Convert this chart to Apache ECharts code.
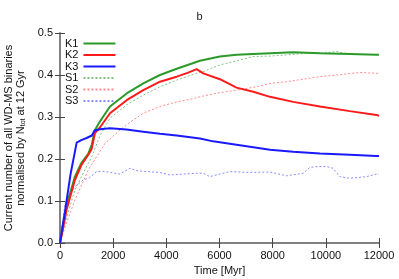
<!DOCTYPE html>
<html>
<head>
<meta charset="utf-8">
<script src="https://cdn.jsdelivr.net/npm/echarts@6/dist/echarts.min.js"></script>
<style>html,body{margin:0;padding:0;background:#fff}#c{width:399px;height:279px}</style>
</head>
<body>
<div id="c"></div>
<script>
const xTicks = [0, 2000, 4000, 6000, 8000, 10000, 12000];
const yTicks = [0.0, 0.1, 0.2, 0.3, 0.4, 0.5];

const k1T = [0,100,250,560,800,1065,1200,1300,1500,1880,2507,3133,3760,4390,5265,6015,6640,7900,8770,9780,10900,11900,12000];
const k1V = [0,0.04,0.09,0.158,0.19,0.213,0.235,0.267,0.289,0.325,0.356,0.38,0.40,0.415,0.434,0.444,0.448,0.452,0.454,0.452,0.45,0.448,0.448];

const k2T = [0,100,250,560,800,1065,1190,1315,1500,1880,2507,3133,3760,4390,4800,5140,5390,6015,6640,7270,7900,8770,9780,10900,11900,12000];
const k2V = [0,0.03,0.08,0.15,0.185,0.21,0.224,0.262,0.275,0.309,0.34,0.364,0.384,0.396,0.405,0.414,0.404,0.39,0.37,0.36,0.348,0.336,0.325,0.314,0.305,0.303];

const k3T = [0,200,400,627,800,1000,1200,1300,1500,1880,2500,3133,3760,4390,5265,5760,6640,7900,8770,9780,10900,11900,12000];
const k3V = [0,0.08,0.165,0.239,0.245,0.25,0.256,0.268,0.271,0.273,0.27,0.265,0.26,0.256,0.249,0.242,0.234,0.222,0.217,0.213,0.21,0.207,0.207];

const s1T = [0,200,560,900,1190,1500,1880,2507,3133,3760,4390,5140,5390,6015,6390,7270,7900,8520,9400,10000,10400,10700,11150,11300];
const s1V = [0,0.05,0.126,0.17,0.205,0.255,0.297,0.329,0.352,0.372,0.388,0.404,0.408,0.424,0.43,0.444,0.445,0.448,0.452,0.453,0.456,0.452,0.45,0.449];

const s2T = [0,200,560,1065,1690,2256,2757,3133,3760,4390,4890,5390,6015,6640,7395,7900,8520,9150,9780,10400,11280,11900,12000];
const s2V = [0,0.04,0.102,0.174,0.237,0.269,0.293,0.309,0.325,0.336,0.342,0.35,0.358,0.364,0.372,0.38,0.384,0.39,0.396,0.4,0.406,0.404,0.404];

const s3T = [0,100,190,350,560,870,1100,1380,1620,1900,2260,2630,2900,3260,3760,4140,4600,5140,5390,5640,6000,6390,7140,7900,8520,9150,9400,9700,10030,10270,10530,10900,11530,11900,12000];
const s3V = [0,0.05,0.095,0.115,0.134,0.15,0.155,0.17,0.171,0.168,0.164,0.178,0.172,0.17,0.168,0.162,0.164,0.166,0.166,0.158,0.164,0.17,0.168,0.169,0.16,0.166,0.18,0.182,0.182,0.178,0.158,0.154,0.158,0.164,0.165];

const names = ['K1','K2','K3','S1','S2','S3'];
const colors = ['#2b9a2b','#ff1a1a','#1a1aff','#80c480','#ff8a8a','#8a8aff'];
const pairs = (t, v) => t.map((x, i) => [x, v[i]]);
const seriesData = [pairs(k1T,k1V), pairs(k2T,k2V), pairs(k3T,k3V), pairs(s1T,s1V), pairs(s2T,s2V), pairs(s3T,s3V)];

const font = 'Liberation Sans';
const chart = echarts.init(document.getElementById('c'), null, {renderer: 'canvas'});

const series = seriesData.map((d, i) => {
  const solid = i < 3;
  return {
    name: names[i], type: 'line', data: d, symbol: 'none', showSymbol: false,
    z: solid ? 4 : 3, animation: false,
    lineStyle: {color: colors[i], width: solid ? 2 : 1, type: solid ? 'solid' : [2, 2]},
    itemStyle: {color: colors[i]}
  };
});

const baseAxis = {
  splitLine: {show: false},
  axisTick: {inside: true, length: 5, lineStyle: {color: '#444', width: 1}},
};

chart.setOption({
  animation: false,
  title: {text: 'b', left: 'center', top: 6, textStyle: {fontFamily: font, fontSize: 11, fontWeight: 'normal', color: '#222'}},
  grid: {left: 60, right: 20, top: 33, bottom: 36, outerBoundsMode: 'none', containLabel: false},
  legend: {
    data: names, orient: 'vertical', left: 65, top: 38, padding: 0, align: 'right',
    itemWidth: 32, itemHeight: 8, itemGap: 0.5,
    itemStyle: {opacity: 0},
    textStyle: {fontFamily: font, fontSize: 11, color: '#111', lineHeight: 11}
  },
  xAxis: [
    Object.assign({}, baseAxis, {
      type: 'value', min: xTicks[0], max: xTicks[xTicks.length-1], interval: 2000,
      name: 'Time [Myr]', nameLocation: 'middle', nameGap: 22,
      nameTextStyle: {fontFamily: font, fontSize: 11, color: '#111'},
      axisLine: {lineStyle: {color: '#444', width: 1.5}},
      axisLabel: {fontFamily: font, fontSize: 11, color: '#111', margin: 7, formatter: v => String(v)}
    }),
    Object.assign({}, baseAxis, {
      type: 'value', position: 'top', min: xTicks[0], max: xTicks[xTicks.length-1], interval: 2000,
      axisLine: {show: true, lineStyle: {color: '#888', width: 1.5}},
      axisLabel: {show: false}
    })
  ],
  yAxis: [
    Object.assign({}, baseAxis, {
      type: 'value', min: yTicks[0], max: yTicks[yTicks.length-1], interval: 0.1,
      name: '{a|Current number of all WD-MS binaries}\n{a|normalised by N}{s|tot}{a| at 12 Gyr}',
      nameLocation: 'middle', nameGap: 33, nameRotate: 90,
      nameTextStyle: {
        fontFamily: font, fontSize: 11, color: '#111', lineHeight: 12, align: 'center',
        rich: {
          a: {fontFamily: font, fontSize: 11, color: '#111', lineHeight: 12},
          s: {fontFamily: font, fontSize: 7, color: '#111', lineHeight: 12, verticalAlign: 'bottom', padding: [4, 0, 0, 0]}
        }
      },
      axisLine: {show: true, lineStyle: {color: '#444', width: 1.5}},
      axisLabel: {fontFamily: font, fontSize: 11, color: '#111', margin: 7, formatter: v => v.toFixed(1)}
    }),
    Object.assign({}, baseAxis, {
      type: 'value', position: 'right', min: yTicks[0], max: yTicks[yTicks.length-1], interval: 0.1,
      axisLine: {show: true, lineStyle: {color: '#888', width: 1.5}},
      axisLabel: {show: false}
    })
  ],
  series: series
});
</script>
</body>
</html>
